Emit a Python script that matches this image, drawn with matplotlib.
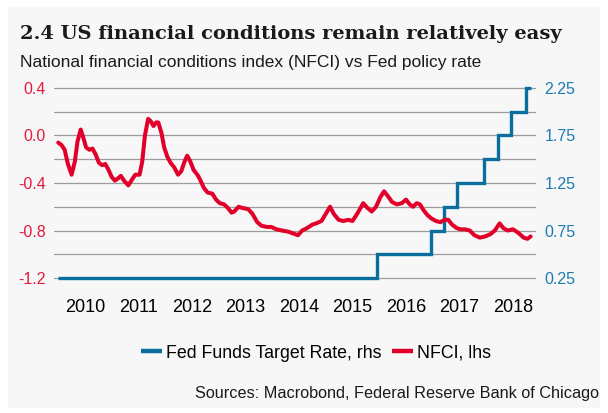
import matplotlib
matplotlib.use("Agg")
import matplotlib.pyplot as plt
from matplotlib.patches import Rectangle

# ---- data -------------------------------------------------------------
# NFCI (left axis), dates as fractional years
nfci_dates = [
    2010.00, 2010.06, 2010.12, 2010.18, 2010.25, 2010.31, 2010.36, 2010.42,
    2010.47, 2010.52, 2010.58, 2010.64, 2010.70, 2010.76, 2010.82, 2010.88,
    2010.94, 2011.00, 2011.06, 2011.12, 2011.17, 2011.23, 2011.31, 2011.38,
    2011.44, 2011.52, 2011.57, 2011.62, 2011.68, 2011.73, 2011.78, 2011.83,
    2011.87, 2011.93, 2011.98, 2012.04, 2012.10, 2012.17, 2012.24, 2012.30,
    2012.36, 2012.41, 2012.47, 2012.53, 2012.60, 2012.65, 2012.72, 2012.79,
    2012.88, 2012.95, 2013.02, 2013.10, 2013.17, 2013.24, 2013.29, 2013.37,
    2013.44, 2013.55, 2013.63, 2013.72, 2013.80, 2013.90, 2013.98, 2014.08,
    2014.18, 2014.30, 2014.42, 2014.48, 2014.56, 2014.65, 2014.75, 2014.82,
    2014.92, 2015.00, 2015.08, 2015.15, 2015.24, 2015.33, 2015.42, 2015.50,
    2015.60, 2015.70, 2015.78, 2015.86, 2015.94, 2016.02, 2016.09, 2016.16,
    2016.24, 2016.33, 2016.42, 2016.50, 2016.57, 2016.63, 2016.70, 2016.76,
    2016.83, 2016.90, 2016.98, 2017.06, 2017.14, 2017.22, 2017.29, 2017.36,
    2017.45, 2017.52, 2017.60, 2017.69, 2017.78, 2017.88, 2017.98, 2018.08,
    2018.16, 2018.25, 2018.32, 2018.40, 2018.50, 2018.60, 2018.70, 2018.77,
    2018.83,
]
nfci_values = [
    -0.06, -0.08, -0.12, -0.24, -0.33, -0.22, -0.05, 0.05,
    -0.02, -0.10, -0.12, -0.11, -0.16, -0.23, -0.25, -0.24,
    -0.29, -0.35, -0.38, -0.36, -0.34, -0.38, -0.42, -0.37,
    -0.33, -0.33, -0.22, 0.00, 0.14, 0.12, 0.08, 0.11,
    0.11, 0.02, -0.10, -0.18, -0.23, -0.27, -0.33, -0.30,
    -0.22, -0.17, -0.22, -0.29, -0.33, -0.37, -0.44, -0.48,
    -0.49, -0.54, -0.57, -0.58, -0.61, -0.65, -0.64, -0.60,
    -0.61, -0.62, -0.66, -0.73, -0.76, -0.77, -0.77, -0.79,
    -0.80, -0.81, -0.83, -0.84, -0.80, -0.78, -0.75, -0.74,
    -0.72, -0.66, -0.60, -0.66, -0.71, -0.72, -0.71, -0.72,
    -0.65, -0.57, -0.61, -0.64, -0.60, -0.52, -0.47, -0.51,
    -0.56, -0.58, -0.57, -0.54, -0.58, -0.60, -0.57, -0.58,
    -0.63, -0.67, -0.70, -0.72, -0.73, -0.71, -0.71, -0.75,
    -0.78, -0.79, -0.79, -0.80, -0.84, -0.86, -0.85, -0.83,
    -0.80, -0.74, -0.78, -0.80, -0.79, -0.82, -0.86, -0.87,
    -0.85,
]

# Fed funds target rate (upper bound, right axis): change dates and levels
fed_dates = [2010.00, 2015.96, 2016.96, 2017.21, 2017.46, 2017.96,
             2018.22, 2018.47, 2018.75, 2018.83]
fed_rate = [0.25, 0.50, 0.75, 1.00, 1.25, 1.50, 1.75, 2.00, 2.25, 2.25]

years = [2010, 2011, 2012, 2013, 2014, 2015, 2016, 2017, 2018]
left_ticks = [-1.2, -0.8, -0.4, 0.0, 0.4]
right_ticks = [0.25, 0.75, 1.25, 1.75, 2.25]
right_grid = [0.25, 0.50, 0.75, 1.00, 1.25, 1.50, 1.75, 2.00, 2.25]

title = "2.4 US financial conditions remain relatively easy"
subtitle = "National financial conditions index (NFCI) vs Fed policy rate"
source = "Sources: Macrobond, Federal Reserve Bank of Chicago"

# ---- style ------------------------------------------------------------
RED = "#e2002b"
BLUE = "#0a6e9f"
RED_TXT = "#e3193b"
BLUE_TXT = "#1d7bb0"
PANEL = "#f7f7f7"
GRID = "#9c9c9c"
SANS = ["Liberation Sans", "DejaVu Sans"]

W, H = 608, 413
fig = plt.figure(figsize=(W / 100, H / 100), dpi=100, facecolor="white")

# light panel behind everything
fig.patches.append(Rectangle((8 / W, 1 - 408 / H), 592 / W, 401 / H,
                             transform=fig.transFigure, facecolor=PANEL,
                             edgecolor="none", zorder=-10))

# plot area in pixels
x0, x1 = 54, 536
y_top, y_bot = 82.06, 283.94
ax = fig.add_axes([x0 / W, 1 - y_bot / H, (x1 - x0) / W, (y_bot - y_top) / H])
ax.patch.set_visible(False)
ax2 = ax.twinx()
ax2.patch.set_visible(False)

# Fed funds on the base axis (labels on the right), grid drawn here
ax.plot(fed_dates, fed_rate, drawstyle="steps-post", color=BLUE, lw=2.4,
        solid_capstyle="butt", solid_joinstyle="miter", zorder=3)
ax.set_ylim(0.1875, 2.3125)
ax.set_yticks(right_grid)
ax.set_yticklabels([f"{v:.2f}" if v in right_ticks else "" for v in right_grid])
ax.yaxis.tick_right()
ax.grid(axis="y", color=GRID, lw=0.9)
ax.set_axisbelow(True)
ax.tick_params(axis="y", length=0, pad=6, labelcolor=BLUE_TXT, labelsize=11.5)

# NFCI on the twin axis (labels on the left)
ax2.plot(nfci_dates, nfci_values, color=RED, lw=2.9,
         solid_capstyle="round", zorder=4)
ax2.set_ylim(-1.25, 0.45)
ax2.set_yticks(left_ticks)
ax2.set_yticklabels([f"{v:.1f}" for v in left_ticks])
ax2.yaxis.tick_left()
ax2.tick_params(axis="y", length=0, pad=6, labelcolor=RED_TXT, labelsize=11.5)

for a in (ax, ax2):
    for s in a.spines.values():
        s.set_visible(False)
    for lab in a.get_yticklabels():
        lab.set_fontfamily(SANS)

ax.set_xlim(2009.9206, 2018.930)
ax.set_xticks([y + 0.5 for y in years])
ax.set_xticklabels([str(y) for y in years])
ax.tick_params(axis="x", length=0, pad=11, labelsize=13)
for lab in ax.get_xticklabels():
    lab.set_fontfamily(SANS)
ax2.tick_params(axis="x", length=0)

# titles
fig.text(20 / W, 1 - 39 / H, title, fontsize=14, fontweight="bold",
         family="DejaVu Serif", color="#1a1a1a", va="baseline", ha="left")
fig.text(20 / W, 1 - 67 / H, subtitle, fontsize=12.5, family=SANS,
         color="#1a1a1a", va="baseline", ha="left")

# legend
h_fed, = ax.plot([], [], color=BLUE, lw=3.2, solid_capstyle="butt")
h_nfci, = ax.plot([], [], color=RED, lw=3.2, solid_capstyle="butt")
fig.legend([h_fed, h_nfci], ["Fed Funds Target Rate, rhs", "NFCI, lhs"],
           loc="center", bbox_to_anchor=(316 / W, 1 - 353 / H), ncol=2,
           frameon=False, handlelength=1.2, handletextpad=0.22,
           columnspacing=0.55, prop={"family": SANS, "size": 12.8})

fig.text(599 / W, 1 - 398 / H, source, fontsize=11.7, family=SANS,
         color="#1a1a1a", ha="right", va="baseline")

fig.savefig("out.png", dpi=100, facecolor="white")
